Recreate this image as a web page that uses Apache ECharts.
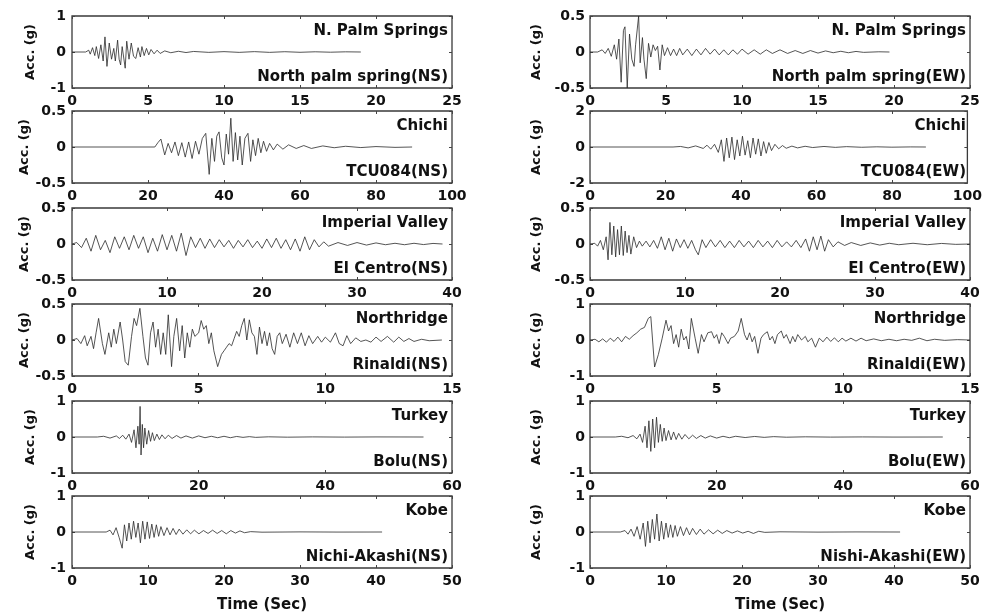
<!DOCTYPE html>
<html>
<head>
<meta charset="utf-8">
<script src="https://cdn.jsdelivr.net/npm/echarts@6/dist/echarts.min.js"></script>
<style>
  html, body { margin: 0; padding: 0; background: #fff; }
  #main { width: 985px; height: 615px; }
</style>
</head>
<body>
<div id="main"></div>
<script>
// acceleration records [time (s), acc (g)]
let palmNS = [[0,0],[0.9,0],[1.1,0.05],[1.2,-0.06],[1.35,0.12],[1.5,-0.1],[1.6,0.15],[1.75,-0.18],[1.9,0.2],[2.05,-0.25],[2.17,0.42],[2.3,-0.4],[2.45,0.25],[2.6,-0.2],[2.75,0.1],[2.85,-0.25],[3.0,0.33],[3.1,-0.2],[3.2,-0.36],[3.3,0.15],[3.5,-0.45],[3.6,0.3],[3.75,-0.2],[3.9,0.25],[4.05,-0.12],[4.2,-0.18],[4.35,0.12],[4.5,-0.14],[4.6,0.15],[4.75,-0.1],[4.9,0.1],[5.05,-0.08],[5.2,0.07],[5.4,-0.05],[5.6,0.05],[5.8,-0.04],[6.1,0.03],[6.5,-0.02],[7,0.02],[7.5,-0.015],[8,0.015],[9,-0.01],[10,0.01],[11,-0.01],[12,0.01],[13,-0.01],[14,0.008],[15,-0.008],[16,0.006],[17,-0.006],[18,0.005],[19,0]];
let chichiNS = [[0,0],[21.8,0],[22.6,0.06],[23.4,0.11],[24.4,-0.11],[25.3,0.05],[26.2,-0.08],[27.1,0.07],[28,-0.12],[28.9,0.06],[29.8,-0.14],[30.7,0.07],[31.6,-0.16],[32.5,0.08],[33.4,-0.1],[34.3,0.12],[35.2,0.19],[36.1,-0.38],[36.8,0.12],[37.5,-0.2],[38.1,0.15],[38.7,0.21],[39.4,-0.15],[40,-0.25],[40.6,0.18],[41.2,-0.1],[41.8,0.4],[42.4,-0.2],[43,0.2],[43.6,-0.18],[44.2,0.15],[44.8,-0.25],[45.5,0.12],[46.3,0.19],[47,-0.2],[47.6,0.1],[48.3,-0.12],[49,0.12],[49.7,-0.08],[50.4,0.08],[51.2,-0.06],[52,0.05],[53,-0.04],[54,0.04],[55.5,-0.03],[57,0.03],[59,-0.02],[61,0.02],[63,-0.02],[66,0.015],[69,-0.01],[72,0.01],[76,-0.008],[80,0.006],[85,-0.005],[89.5,0]];
let centroNS = [[0,0],[0.5,0.02],[1,-0.05],[1.5,0.08],[2,-0.1],[2.5,0.12],[3,-0.08],[3.5,0.05],[4,-0.12],[4.5,0.1],[5,-0.06],[5.5,0.1],[6,-0.08],[6.5,0.12],[7,-0.06],[7.5,0.1],[8,-0.12],[8.5,0.08],[9,-0.1],[9.5,0.13],[10,-0.08],[10.5,0.12],[11,-0.1],[11.5,0.15],[12,-0.16],[12.5,0.1],[13,-0.05],[13.5,0.08],[14,-0.06],[14.5,0.07],[15,-0.05],[15.5,0.06],[16,-0.04],[16.5,0.05],[17,-0.06],[17.5,0.05],[18,-0.04],[18.5,0.06],[19,-0.05],[19.5,0.04],[20,-0.06],[20.5,0.07],[21,-0.05],[21.5,0.08],[22,-0.06],[22.5,0.06],[23,-0.08],[23.5,0.07],[24,-0.1],[24.5,0.1],[25,-0.08],[25.5,0.06],[26,-0.04],[26.5,0.03],[27,-0.03],[28,0.02],[29,-0.02],[30,0.02],[31,-0.015],[32,0.015],[33,-0.01],[34,0.01],[35,-0.01],[36,0.01],[37,-0.008],[38,0.008],[39,0]];
let rinaldiNS = [[0,0],[0.2,0.02],[0.35,-0.05],[0.5,0.06],[0.6,-0.08],[0.75,0.05],[0.85,-0.12],[0.95,0.1],[1.05,0.3],[1.2,-0.05],[1.3,-0.2],[1.45,0.1],[1.55,-0.1],[1.65,0.15],[1.75,-0.05],[1.9,0.25],[2.0,0.0],[2.1,-0.3],[2.22,-0.35],[2.35,0.05],[2.45,0.3],[2.55,0.2],[2.68,0.44],[2.8,0.05],[2.9,-0.25],[3.0,-0.35],[3.1,0.1],[3.2,0.25],[3.3,-0.1],[3.4,0.15],[3.5,-0.2],[3.6,0.1],[3.7,-0.2],[3.8,0.35],[3.93,-0.37],[4.02,0.05],[4.13,0.3],[4.25,-0.15],[4.35,0.2],[4.45,-0.25],[4.55,0.1],[4.65,-0.1],[4.75,0.15],[4.85,0.05],[5.0,0.1],[5.1,0.27],[5.2,0.15],[5.3,0.2],[5.4,-0.05],[5.5,0.1],[5.6,-0.15],[5.75,-0.37],[5.9,-0.2],[6.0,-0.15],[6.1,-0.1],[6.2,-0.05],[6.3,-0.08],[6.4,0.02],[6.5,0.12],[6.6,0.05],[6.7,0.2],[6.8,0.3],[6.9,0.0],[7.0,0.28],[7.1,0.1],[7.2,0.05],[7.3,-0.2],[7.4,0.18],[7.5,-0.05],[7.6,0.12],[7.7,-0.08],[7.8,0.1],[7.9,-0.12],[8.0,-0.2],[8.1,0.05],[8.2,0.1],[8.3,-0.05],[8.45,0.08],[8.6,-0.1],[8.75,0.1],[8.9,-0.05],[9.05,0.1],[9.2,-0.08],[9.35,0.06],[9.5,-0.05],[9.7,0.05],[9.85,-0.03],[10.0,0.04],[10.2,-0.03],[10.4,0.1],[10.55,-0.05],[10.7,-0.08],[10.85,0.06],[11.0,-0.05],[11.2,0.03],[11.4,-0.02],[11.6,0.0],[11.8,-0.03],[12.0,0.04],[12.2,-0.02],[12.45,0.05],[12.7,-0.03],[12.9,0.04],[13.1,-0.02],[13.3,0.02],[13.5,-0.02],[13.8,0.01],[14.1,-0.01],[14.6,0]];
let boluNS = [[0,0],[4,0],[5,0.02],[6,-0.03],[7,0.03],[7.5,-0.04],[8,0.05],[8.5,-0.06],[9,0.08],[9.4,-0.15],[9.8,0.2],[10.1,-0.3],[10.4,0.3],[10.6,-0.2],[10.75,0.85],[10.9,-0.5],[11.1,0.35],[11.3,-0.3],[11.5,0.25],[11.8,-0.2],[12.1,0.18],[12.4,-0.12],[12.7,0.12],[13,-0.1],[13.4,0.08],[13.8,-0.07],[14.2,0.06],[14.7,-0.05],[15.2,0.05],[15.8,-0.04],[16.5,0.04],[17.2,-0.03],[18,0.03],[19,-0.03],[20,0.03],[21,-0.02],[22,0.02],[23,-0.02],[24,0.02],[25,-0.02],[26,0.015],[27,-0.01],[28,0.01],[29,-0.01],[31,0.005],[34,-0.005],[38,0.003],[43,-0.003],[48,0.002],[55.5,0]];
let akashiNS = [[0,0],[4.5,0],[5,0.05],[5.4,-0.08],[5.8,0.12],[6.2,-0.15],[6.6,-0.45],[6.9,0.2],[7.2,-0.25],[7.5,0.25],[7.8,-0.2],[8.1,0.3],[8.4,-0.15],[8.7,0.25],[9,-0.3],[9.3,0.3],[9.6,-0.2],[9.9,0.28],[10.2,-0.18],[10.5,0.22],[10.8,-0.15],[11.1,0.2],[11.4,-0.12],[11.7,0.15],[12.1,-0.1],[12.5,0.12],[12.9,-0.08],[13.3,0.1],[13.7,-0.07],[14.1,0.08],[14.6,-0.06],[15.1,0.06],[15.6,-0.05],[16.1,0.05],[16.7,-0.05],[17.3,0.04],[17.9,-0.04],[18.5,0.05],[19.1,-0.04],[19.7,0.04],[20.3,-0.05],[20.9,0.04],[21.5,-0.03],[22.1,0.03],[22.7,-0.02],[23.5,0.01],[25,-0.005],[30,0.003],[35,-0.002],[40.8,0]];

let palmEW = [[0,0],[0.5,0],[0.8,0.03],[1.0,-0.02],[1.2,0.05],[1.4,-0.06],[1.6,0.1],[1.75,-0.1],[1.9,0.18],[2.05,-0.42],[2.2,0.3],[2.3,0.35],[2.45,-0.5],[2.6,0.25],[2.75,-0.1],[2.9,-0.2],[3.0,0.1],[3.2,0.5],[3.3,-0.15],[3.45,0.2],[3.55,-0.1],[3.7,-0.37],[3.85,0.12],[4.0,-0.07],[4.15,0.1],[4.3,0.02],[4.45,0.08],[4.6,-0.25],[4.75,0.1],[4.9,-0.05],[5.1,0.06],[5.3,-0.05],[5.5,0.04],[5.7,-0.05],[5.9,0.05],[6.1,-0.04],[6.4,0.04],[6.7,-0.05],[7.0,0.04],[7.3,-0.04],[7.6,0.05],[7.9,-0.03],[8.2,0.04],[8.5,-0.04],[8.8,0.03],[9.1,-0.04],[9.4,0.03],[9.7,-0.03],[10.0,0.04],[10.4,-0.03],[10.8,0.03],[11.2,-0.03],[11.6,0.03],[12,-0.02],[12.5,0.03],[13,-0.02],[13.5,0.02],[14,-0.02],[14.5,0.02],[15,-0.015],[15.5,0.015],[16,-0.01],[16.5,0.01],[17,-0.01],[17.5,0.008],[18,-0.005],[19,0.003],[19.7,0]];
let chichiEW = [[0,0],[22,0],[24,0.03],[26,-0.05],[28,0.06],[30,-0.08],[31,0.1],[32,-0.12],[33,0.15],[34,-0.3],[34.8,0.4],[35.5,-0.8],[36.2,0.5],[36.9,-0.6],[37.6,0.55],[38.3,-0.7],[39,0.4],[39.7,-0.5],[40.4,0.6],[41.1,-0.45],[41.8,0.35],[42.5,-0.6],[43.2,0.5],[43.9,-0.4],[44.6,0.45],[45.3,-0.5],[46,0.3],[46.7,-0.35],[47.4,0.25],[48.1,-0.2],[49,0.15],[50,-0.1],[51,0.08],[52,-0.07],[53.5,0.05],[55,-0.05],[57,0.04],[59,-0.03],[62,0.03],[65,-0.02],[68,0.02],[72,-0.015],[76,0.01],[80,-0.01],[85,0.005],[89,0]];
let centroEW = [[0,0],[0.5,0.01],[0.8,-0.03],[1.1,0.05],[1.4,-0.08],[1.7,0.1],[1.9,-0.22],[2.1,0.3],[2.3,-0.15],[2.5,0.25],[2.7,-0.18],[2.9,0.2],[3.1,-0.15],[3.3,0.25],[3.5,-0.16],[3.7,0.18],[3.9,-0.12],[4.1,0.12],[4.3,-0.14],[4.6,0.1],[4.9,-0.05],[5.2,0.04],[5.5,-0.03],[5.9,0.04],[6.3,-0.04],[6.7,0.05],[7.1,-0.06],[7.5,0.1],[7.9,-0.08],[8.3,0.08],[8.7,-0.1],[9.1,0.07],[9.5,-0.05],[9.9,0.06],[10.3,-0.06],[10.7,0.05],[11.1,-0.08],[11.4,-0.15],[11.8,0.06],[12.2,-0.05],[12.7,0.06],[13.2,-0.04],[13.7,0.05],[14.2,-0.05],[14.7,0.04],[15.2,-0.05],[15.7,0.05],[16.2,-0.04],[16.7,0.04],[17.2,-0.05],[17.7,0.05],[18.2,-0.04],[18.7,0.04],[19.2,-0.05],[19.7,0.05],[20.2,-0.04],[20.7,0.03],[21.2,-0.04],[21.7,0.05],[22.2,-0.05],[22.7,0.07],[23.1,-0.1],[23.5,0.1],[23.9,-0.08],[24.3,0.11],[24.7,-0.1],[25.1,0.06],[25.6,-0.04],[26.1,0.03],[26.8,-0.02],[27.5,0.02],[28.5,-0.02],[29.5,0.015],[30.5,-0.015],[31.5,0.01],[32.5,-0.01],[34,0.01],[35.5,-0.01],[37,0.008],[38.5,-0.005],[40,0]];
let rinaldiEW = [[0,0],[0.2,0.02],[0.35,-0.05],[0.5,0.03],[0.65,-0.06],[0.8,0.05],[0.95,-0.04],[1.1,0.08],[1.25,-0.05],[1.4,0.1],[1.55,0.02],[1.7,0.12],[1.85,0.2],[2.0,0.3],[2.15,0.35],[2.3,0.6],[2.4,0.65],[2.55,-0.75],[2.7,-0.4],[2.85,0.05],[3.0,0.55],[3.1,0.25],[3.2,0.4],[3.3,-0.1],[3.4,0.15],[3.5,-0.2],[3.6,0.3],[3.7,0.0],[3.8,0.1],[3.9,-0.25],[4.0,0.6],[4.15,0.05],[4.27,-0.37],[4.4,0.15],[4.5,-0.05],[4.65,0.2],[4.8,0.23],[4.9,0.05],[5.0,0.15],[5.1,-0.1],[5.2,0.2],[5.3,0.1],[5.45,-0.1],[5.55,0.05],[5.7,0.1],[5.85,0.25],[5.97,0.6],[6.1,0.15],[6.2,0.0],[6.3,0.2],[6.4,-0.05],[6.5,0.1],[6.63,-0.37],[6.75,0.05],[6.85,0.15],[7.0,0.23],[7.1,0.0],[7.2,0.1],[7.3,-0.1],[7.4,0.15],[7.55,0.25],[7.65,0.05],[7.75,0.15],[7.9,-0.1],[8.0,0.1],[8.1,-0.05],[8.2,0.15],[8.35,0.0],[8.5,0.1],[8.6,-0.05],[8.75,0.05],[8.9,-0.2],[9.05,0.05],[9.2,-0.05],[9.35,0.08],[9.5,-0.04],[9.65,0.06],[9.8,-0.05],[9.95,0.05],[10.1,-0.03],[10.3,0.05],[10.5,-0.03],[10.7,0.05],[10.9,-0.02],[11.2,0.03],[11.5,-0.02],[11.8,0.02],[12.1,-0.02],[12.4,0.02],[12.7,-0.01],[13.0,0.05],[13.3,-0.02],[13.6,0.02],[14.0,-0.01],[14.5,0.01],[15,0]];
let boluEW = [[0,0],[4,0],[5,0.02],[6,-0.02],[6.8,0.04],[7.4,-0.05],[7.9,0.08],[8.3,-0.15],[8.7,0.3],[9.0,-0.3],[9.3,0.45],[9.6,-0.4],[9.9,0.5],[10.2,-0.3],[10.5,0.55],[10.8,-0.15],[11.1,0.35],[11.4,-0.12],[11.7,0.25],[12,-0.1],[12.4,0.18],[12.8,-0.08],[13.2,0.14],[13.6,-0.07],[14,0.1],[14.5,-0.06],[15,0.07],[15.6,-0.05],[16.2,0.05],[16.8,-0.04],[17.5,0.04],[18.2,-0.03],[19,0.03],[20,-0.03],[21,0.02],[22,-0.02],[23,0.02],[24.5,-0.015],[26,0.015],[27.5,-0.01],[29,0.01],[31,-0.006],[34,0.005],[38,-0.003],[43,0.002],[48,-0.002],[55.7,0]];
let akashiEW = [[0,0],[4,0],[4.6,0.04],[5.0,-0.06],[5.4,0.08],[5.8,-0.12],[6.2,0.15],[6.6,-0.2],[7.0,0.25],[7.3,-0.4],[7.6,0.3],[7.9,-0.3],[8.2,0.35],[8.5,-0.2],[8.8,0.5],[9.1,-0.25],[9.4,0.3],[9.7,-0.2],[10,0.25],[10.3,-0.15],[10.6,0.2],[10.9,-0.15],[11.2,0.18],[11.5,-0.12],[11.9,0.15],[12.3,-0.1],[12.7,0.12],[13.1,-0.08],[13.5,0.1],[14,-0.07],[14.5,0.08],[15,-0.06],[15.6,0.06],[16.2,-0.05],[16.8,0.05],[17.4,-0.04],[18,0.04],[18.7,-0.03],[19.4,0.03],[20.1,-0.03],[20.8,0.02],[21.5,-0.04],[22.2,0.02],[23,-0.01],[25,0.005],[30,-0.003],[35,0.002],[40.8,0]];

let xMax = [25, 100, 40, 15, 60, 50];
let xStep = [5, 20, 10, 5, 20, 10];
let yMaxNS = [1, 0.5, 0.5, 0.5, 1, 1];
let yMaxEW = [0.5, 2, 0.5, 1, 1, 1];
let events = ['N. Palm Springs', 'Chichi', 'Imperial Valley', 'Northridge', 'Turkey', 'Kobe'];
let stationsNS = ['North palm spring(NS)', 'TCU084(NS)', 'El Centro(NS)', 'Rinaldi(NS)', 'Bolu(NS)', 'Nichi-Akashi(NS)'];
let stationsEW = ['North palm spring(EW)', 'TCU084(EW)', 'El Centro(EW)', 'Rinaldi(EW)', 'Bolu(EW)', 'Nishi-Akashi(EW)'];
let recordsNS = [palmNS, chichiNS, centroNS, rinaldiNS, boluNS, akashiNS];
let recordsEW = [palmEW, chichiEW, centroEW, rinaldiEW, boluEW, akashiEW];

let colLeft = [72, 590];
let rowTop = [16, 111, 208, 304, 401, 496];
let plotW = 380, plotH = 72;
let fontBold = 'DejaVu Sans';

let chart = echarts.init(document.getElementById('main'));
let grids = [], xAxes = [], yAxes = [], series = [], texts = [];

for (let c = 0; c < 2; c++) {
  for (let r = 0; r < 6; r++) {
    let k = grids.length;
    let yMax = c === 0 ? yMaxNS[r] : yMaxEW[r];
    grids.push({
      left: colLeft[c], top: rowTop[r], width: plotW, height: plotH,
      show: true, borderColor: '#3a3a3a', borderWidth: 1.3, backgroundColor: '#fff'
    });
    let tick = { show: true, inside: true, length: 3, lineStyle: { color: '#444', width: 1 } };
    let noLine = { show: false, onZero: false };
    // bottom axis with labels, top axis only for ticks
    xAxes.push({
      type: 'value', gridIndex: k, position: 'bottom', min: 0, max: xMax[r], interval: xStep[r],
      axisLine: noLine, axisTick: tick, splitLine: { show: false },
      axisLabel: { margin: 6, color: '#111', fontFamily: fontBold, fontWeight: 'bold', fontSize: 14 }
    });
    xAxes.push({
      type: 'value', gridIndex: k, position: 'top', min: 0, max: xMax[r], interval: xStep[r],
      axisLine: noLine, axisTick: tick, splitLine: { show: false }, axisLabel: { show: false }
    });
    yAxes.push({
      type: 'value', gridIndex: k, position: 'left', min: -yMax, max: yMax, interval: yMax,
      axisLine: noLine, axisTick: tick, splitLine: { show: false },
      axisLabel: { margin: c === 0 ? 6 : 5, color: '#111', fontFamily: fontBold, fontWeight: 'bold', fontSize: 14 },
      name: 'Acc. (g)', nameLocation: 'middle', nameRotate: 90, nameGap: c === 0 ? 35 : 47,
      nameTextStyle: { color: '#111', fontFamily: fontBold, fontWeight: 'bold', fontSize: 13 }
    });
    yAxes.push({
      type: 'value', gridIndex: k, position: 'right', min: -yMax, max: yMax, interval: yMax,
      axisLine: noLine, axisTick: tick, splitLine: { show: false }, axisLabel: { show: false }
    });
    series.push({
      type: 'line', xAxisIndex: 2 * k, yAxisIndex: 2 * k,
      data: c === 0 ? recordsNS[r] : recordsEW[r],
      showSymbol: false, symbol: 'none', silent: true,
      lineStyle: { color: '#2a2a2a', width: 0.8 }
    });
    let right = colLeft[c] + plotW - 4;
    texts.push({
      type: 'text', x: right, y: rowTop[r] + 15, silent: true,
      style: { text: events[r], align: 'right', verticalAlign: 'middle', fill: '#111', font: 'bold 15px "DejaVu Sans"' }
    });
    texts.push({
      type: 'text', x: right, y: rowTop[r] + plotH - 11, silent: true,
      style: { text: c === 0 ? stationsNS[r] : stationsEW[r], align: 'right', verticalAlign: 'middle', fill: '#111', font: 'bold 15px "DejaVu Sans"' }
    });
  }
  texts.push({
    type: 'text', x: colLeft[c] + plotW / 2, y: 605, silent: true,
    style: { text: 'Time (Sec)', align: 'center', verticalAlign: 'middle', fill: '#111', font: 'bold 15px "DejaVu Sans"' }
  });
}

chart.setOption({
  animation: false,
  backgroundColor: '#fff',
  grid: grids,
  xAxis: xAxes,
  yAxis: yAxes,
  series: series,
  graphic: texts
});
</script>
</body>
</html>
